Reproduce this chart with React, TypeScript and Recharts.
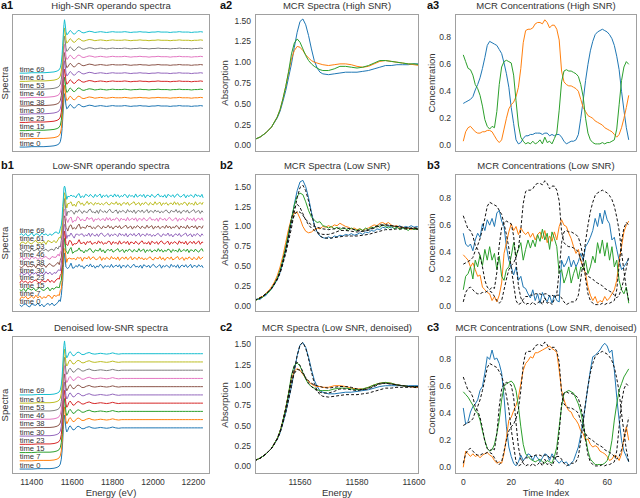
import React from 'react';
import { LineChart, Line, XAxis, YAxis, LabelList } from 'recharts';

const FONT = '"Liberation Sans", Arial, Helvetica, sans-serif';
const INK = '#333333';
const FRAME = '#a0a0a0';
const REF = '#111111';

const TAB10 = ['#1f77b4', '#ff7f0e', '#2ca02c', '#d62728', '#9467bd', '#8c564b', '#e377c2', '#7f7f7f', '#bcbd22', '#17becf'];

// ---- stacked operando spectra (column 1) ----
const stackLabels = ['time 0', 'time 7', 'time 15', 'time 23', 'time 30', 'time 38', 'time 46', 'time 53', 'time 61', 'time 69'];
const stackOffsets = [0, 0.2, 0.4, 0.6, 0.8, 1.0, 1.2, 1.4, 1.6, 1.8];
const edgeEnergy = [
  11340, 11370, 11400, 11430, 11460, 11490, 11510, 11525, 11535, 11541,
  11546, 11550, 11553, 11556, 11559, 11562, 11565, 11569, 11573, 11578,
  11584, 11590, 11597, 11604, 11612, 11620, 11629, 11638, 11648, 11658,
  11670, 11684, 11698, 11712, 11726, 11740, 11755, 11770, 11785, 11800,
  11815, 11830, 11845, 11860, 11875, 11890, 11905, 11920, 11935, 11950,
  11965, 11980, 11995, 12010, 12025, 12040, 12055, 12070, 12085, 12100,
  12115, 12130, 12145, 12160, 12175, 12190, 12205, 12220, 12235, 12247,
];
const highSnrEdge = [
  0.0, 0.0, 0.01, 0.01, 0.01, 0.02, 0.03, 0.05, 0.08, 0.13,
  0.25, 0.45, 0.68, 0.95, 1.18, 1.3, 1.2, 1.02, 0.93, 0.95,
  1.0, 1.04, 1.01, 0.96, 0.95, 0.99, 1.04, 1.03, 0.99, 0.98,
  1.0, 1.02, 1.01, 0.99, 1.0, 1.01, 1.0, 0.99, 1.0, 1.01,
  1.0, 1.0, 1.0, 1.01, 1.0, 0.99, 1.0, 1.0, 1.01, 1.0,
  1.0, 0.99, 1.0, 1.0, 1.01, 1.0, 1.0, 1.0, 0.99, 1.0,
  1.0, 1.01, 1.0, 1.0, 1.0, 0.99, 1.0, 1.0, 1.01, 1.0,
];
const denoisedEdge = [
  0.0, 0.0, 0.0, 0.01, 0.01, 0.01, 0.02, 0.04, 0.07, 0.12,
  0.24, 0.44, 0.68, 0.96, 1.2, 1.31, 1.18, 0.98, 0.9, 0.94,
  1.02, 1.05, 1.0, 0.95, 0.96, 1.01, 1.04, 1.02, 0.98, 0.98,
  1.01, 1.03, 1.0, 0.99, 1.0, 1.01, 1.0, 0.99, 1.0, 1.02,
  1.0, 0.99, 1.0, 1.0, 1.0, 1.0, 1.0, 1.0, 1.0, 1.0,
  1.0, 1.0, 1.0, 1.0, 1.0, 1.0, 1.0, 1.0, 1.0, 1.0,
  1.0, 1.0, 1.0, 1.0, 1.0, 1.0, 1.0, 1.0, 1.0, 1.0,
];
// low-SNR scans are sampled more finely
const noisyEnergy = [
  11340, 11350, 11360, 11370, 11380, 11390, 11400, 11410, 11420, 11430,
  11440, 11450, 11460, 11470, 11480, 11490, 11500, 11510, 11520, 11530,
  11536, 11541, 11546, 11550, 11553, 11556, 11559, 11562, 11565, 11569,
  11573, 11578, 11586, 11594, 11602, 11610, 11618, 11626, 11634, 11642,
  11650, 11658, 11666, 11674, 11682, 11690, 11698, 11706, 11714, 11722,
  11730, 11738, 11746, 11754, 11762, 11770, 11778, 11786, 11794, 11802,
  11810, 11818, 11826, 11834, 11842, 11850, 11858, 11866, 11874, 11882,
  11890, 11898, 11906, 11914, 11922, 11930, 11938, 11946, 11954, 11962,
  11970, 11978, 11986, 11994, 12002, 12010, 12018, 12026, 12034, 12042,
  12050, 12058, 12066, 12074, 12082, 12090, 12098, 12106, 12114, 12122,
  12130, 12138, 12146, 12154, 12162, 12170, 12178, 12186, 12194, 12202,
  12210, 12218, 12226, 12234, 12242, 12248,
];
const noisyEdge = [
  0.0, 0.0, 0.0, 0.0, 0.0, 0.0, 0.01, 0.01, 0.01, 0.01,
  0.01, 0.01, 0.01, 0.01, 0.02, 0.02, 0.02, 0.03, 0.04, 0.06,
  0.09, 0.13, 0.25, 0.45, 0.68, 0.95, 1.18, 1.3, 1.2, 1.02,
  0.93, 0.95, 1.02, 1.03, 0.97, 0.95, 0.98, 1.03, 1.03, 1.0,
  0.98, 0.98, 1.0, 1.01, 1.02, 1.01, 1.0, 0.99, 0.99, 1.0,
  1.0, 1.01, 1.0, 1.0, 0.99, 1.0, 1.0, 1.01, 1.0, 1.0,
  1.0, 1.0, 1.0, 1.0, 1.0, 1.0, 1.0, 1.0, 1.0, 1.0,
  1.0, 1.0, 1.0, 1.0, 1.0, 1.0, 1.0, 1.0, 1.0, 1.0,
  1.0, 1.0, 1.0, 1.0, 1.0, 1.0, 1.0, 1.0, 1.0, 1.0,
  1.0, 1.0, 1.0, 1.0, 1.0, 1.0, 1.0, 1.0, 1.0, 1.0,
  1.0, 1.0, 1.0, 1.0, 1.0, 1.0, 1.0, 1.0, 1.0, 1.0,
  1.0, 1.0, 1.0, 1.0, 1.0, 1.0,
];
const lowSnrNoise = [
  0.01, -0.03, 0.02, 0.04, -0.02, -0.04, 0.03, 0.0, -0.01, 0.05,
  -0.03, 0.02, -0.05, 0.01, 0.03, -0.02, 0.04, -0.04, -0.01, 0.02,
  0.05, -0.03, 0.0, 0.03, -0.05, 0.02, -0.02, 0.04, 0.01, -0.04,
  0.03, -0.01, -0.03, 0.05, -0.02, 0.01, 0.04, -0.05, 0.02, -0.01,
  0.03, -0.04, 0.0, 0.02, -0.03, 0.05, -0.02, 0.03, -0.04, 0.01,
  -0.02, 0.04, 0.02, -0.05, 0.03, -0.01, 0.01, -0.04, 0.05, -0.03,
  0.0, 0.03, -0.02, 0.04, -0.05, 0.02, 0.01, -0.03, 0.04, -0.01,
  -0.04, 0.02, 0.05, -0.02, 0.0, -0.03, 0.03, -0.05, 0.04, 0.01,
  -0.02, 0.03, -0.04, 0.02, 0.05, -0.01, -0.03, 0.01, 0.04, -0.05,
  0.02, -0.02, 0.03, 0.0, -0.04, 0.05, -0.01, 0.02, -0.03, 0.04,
  -0.05, 0.01, 0.03, -0.02, 0.04, -0.03, 0.0, 0.05, -0.04, 0.02,
  0.01, -0.03, 0.04, -0.01, 0.02, -0.04,
];

// ---- MCR component spectra (column 2) ----
const mcrEnergy = [
  11544, 11546, 11548, 11550, 11552, 11553, 11554, 11555, 11556, 11557,
  11558, 11559, 11560, 11561, 11562, 11563, 11564, 11565, 11566, 11567,
  11568, 11570, 11572, 11574, 11576, 11578, 11580, 11582, 11584, 11586,
  11588, 11590, 11592, 11594, 11596, 11598, 11600, 11602,
];
const highBlue = [
  0.07, 0.1, 0.15, 0.22, 0.33, 0.41, 0.53, 0.66, 0.82, 0.98,
  1.18, 1.36, 1.49, 1.52, 1.45, 1.32, 1.16, 1.02, 0.93, 0.88,
  0.86, 0.85, 0.86, 0.87, 0.88, 0.88, 0.88, 0.89, 0.9, 0.92,
  0.94, 0.96, 0.96, 0.97, 0.97, 0.97, 0.98, 0.98,
];
const highOrange = [
  0.07, 0.1, 0.15, 0.22, 0.34, 0.43, 0.56, 0.71, 0.88, 1.04,
  1.14, 1.19, 1.18, 1.14, 1.09, 1.05, 1.02, 1.0, 0.99, 0.98,
  0.97, 0.96, 0.97, 0.98, 0.98, 0.97, 0.95, 0.94, 0.95, 0.98,
  1.01, 1.02, 1.01, 1.0, 0.99, 0.98, 0.97, 0.96,
];
const highGreen = [
  0.07, 0.1, 0.15, 0.22, 0.34, 0.43, 0.56, 0.71, 0.89, 1.1,
  1.23, 1.28, 1.24, 1.16, 1.08, 1.02, 0.98, 0.95, 0.93, 0.91,
  0.9, 0.9, 0.92, 0.95, 0.95, 0.94, 0.93, 0.94, 0.96, 0.99,
  1.02, 1.02, 1.01, 1.0, 0.99, 0.98, 0.98, 0.97,
];
const denoisedBlue = [
  0.07, 0.1, 0.15, 0.22, 0.33, 0.41, 0.53, 0.66, 0.82, 0.98,
  1.17, 1.36, 1.49, 1.52, 1.46, 1.34, 1.19, 1.06, 0.98, 0.93,
  0.91, 0.89, 0.89, 0.9, 0.91, 0.91, 0.92, 0.93, 0.94, 0.96,
  0.98, 0.99, 0.99, 0.99, 0.99, 0.99, 0.99, 0.99,
];
const denoisedOrange = [
  0.07, 0.1, 0.15, 0.22, 0.34, 0.43, 0.56, 0.72, 0.9, 1.07,
  1.17, 1.2, 1.18, 1.13, 1.08, 1.04, 1.01, 0.99, 0.98, 0.98,
  0.97, 0.97, 0.99, 0.99, 0.98, 0.96, 0.95, 0.95, 0.97, 1.0,
  1.02, 1.03, 1.02, 1.0, 0.99, 0.98, 0.97, 0.97,
];
const denoisedGreen = [
  0.07, 0.1, 0.15, 0.22, 0.34, 0.43, 0.56, 0.71, 0.9, 1.12,
  1.24, 1.27, 1.23, 1.15, 1.07, 1.01, 0.98, 0.96, 0.94, 0.93,
  0.93, 0.93, 0.95, 0.96, 0.96, 0.95, 0.94, 0.95, 0.97, 1.0,
  1.02, 1.03, 1.02, 1.0, 0.99, 0.98, 0.98, 0.98,
];
const fineEnergy = [
  11544, 11545, 11546, 11547, 11548, 11549, 11550, 11551, 11552, 11553,
  11554, 11555, 11556, 11557, 11558, 11559, 11560, 11561, 11562, 11563,
  11564, 11565, 11566, 11567, 11568, 11569, 11570, 11571, 11572, 11573,
  11574, 11575, 11576, 11577, 11578, 11579, 11580, 11581, 11582, 11583,
  11584, 11585, 11586, 11587, 11588, 11589, 11590, 11591, 11592, 11593,
  11594, 11595, 11596, 11597, 11598, 11599, 11600, 11601, 11602,
];
const lowBlue = [
  0.07, 0.09, 0.08, 0.12, 0.13, 0.18, 0.21, 0.27, 0.33, 0.42,
  0.55, 0.7, 0.88, 1.06, 1.28, 1.45, 1.56, 1.58, 1.5, 1.36,
  1.18, 1.02, 0.93, 0.88, 0.86, 0.85, 0.87, 0.85, 0.88, 0.87,
  0.89, 0.88, 0.9, 0.89, 0.91, 0.89, 0.9, 0.92, 0.9, 0.93,
  0.92, 0.95, 0.94, 0.97, 0.96, 0.99, 0.98, 1.0, 0.98, 1.0,
  0.99, 1.01, 0.98, 1.0, 0.99, 1.01, 0.99, 1.0, 0.98,
];
const lowOrange = [
  0.07, 0.08, 0.11, 0.12, 0.16, 0.19, 0.24, 0.3, 0.38, 0.49,
  0.63, 0.8, 0.97, 1.1, 1.17, 1.18, 1.1, 1.0, 0.94, 0.92,
  0.93, 0.96, 0.98, 0.97, 1.0, 0.99, 1.01, 0.99, 1.02, 1.01,
  1.04, 1.02, 1.0, 0.99, 0.97, 0.98, 0.96, 0.97, 0.95, 0.97,
  0.98, 1.0, 1.02, 1.01, 1.04, 1.05, 1.03, 1.05, 1.02, 1.0,
  1.01, 0.98, 0.99, 0.97, 0.98, 0.96, 0.98, 0.97, 0.96,
];
const lowGreen = [
  0.06, 0.08, 0.1, 0.11, 0.15, 0.17, 0.22, 0.28, 0.35, 0.45,
  0.58, 0.74, 0.92, 1.1, 1.27, 1.38, 1.42, 1.4, 1.31, 1.2,
  1.12, 1.08, 1.05, 1.06, 1.01, 1.0, 0.98, 1.0, 0.97, 0.99,
  0.96, 0.98, 0.97, 0.95, 0.98, 0.96, 0.95, 0.97, 0.95, 0.98,
  0.96, 0.99, 0.98, 1.01, 0.99, 1.02, 1.0, 0.98, 1.01, 0.97,
  0.99, 0.96, 0.98, 0.97, 0.95, 0.98, 0.96, 0.97, 0.98,
];

// ---- MCR concentrations (column 3) ----
const timeIndex = [
  0, 1, 2, 3, 4, 5, 6, 7, 8, 9, 10, 11, 12, 13, 14, 15, 16, 17, 18, 19,
  20, 21, 22, 23, 24, 25, 26, 27, 28, 29, 30, 31, 32, 33, 34, 35, 36, 37, 38, 39,
  40, 41, 42, 43, 44, 45, 46, 47, 48, 49, 50, 51, 52, 53, 54, 55, 56, 57, 58, 59,
  60, 61, 62, 63, 64, 65, 66, 67, 68, 69,
];
const highConcBlue = [
  0.31, 0.32, 0.33, 0.34, 0.36, 0.41, 0.45, 0.5, 0.57, 0.65,
  0.74, 0.77, 0.76, 0.75, 0.74, 0.71, 0.68, 0.61, 0.53, 0.43,
  0.28, 0.16, 0.04, 0.01, 0.02, 0.05, 0.07, 0.07, 0.08, 0.08,
  0.09, 0.09, 0.09, 0.08, 0.09, 0.09, 0.07, 0.08, 0.07, 0.08,
  0.08, 0.06, 0.03, 0.01, 0.02, 0.03, 0.03, 0.04, 0.08, 0.2,
  0.33, 0.48, 0.6, 0.7, 0.77, 0.82, 0.84, 0.85, 0.86, 0.85,
  0.84, 0.82, 0.79, 0.74, 0.66, 0.56, 0.4, 0.26, 0.13, 0.04,
];
const highConcOrange = [
  0.03, 0.1, 0.13, 0.14, 0.12, 0.1, 0.09, 0.09, 0.1, 0.1,
  0.11, 0.11, 0.1, 0.07, 0.04, 0.02, 0.04, 0.12, 0.2, 0.27,
  0.3, 0.32, 0.36, 0.43, 0.57, 0.76, 0.85, 0.86, 0.86, 0.87,
  0.9, 0.91, 0.91, 0.9, 0.93, 0.91, 0.87, 0.89, 0.89, 0.86,
  0.78, 0.55, 0.47, 0.45, 0.44, 0.44, 0.43, 0.42, 0.4, 0.34,
  0.28, 0.25, 0.22, 0.21, 0.2, 0.18, 0.17, 0.16, 0.15, 0.13,
  0.12, 0.11, 0.1, 0.08, 0.06, 0.08, 0.13, 0.2, 0.28, 0.37,
];
const highConcGreen = [
  0.67, 0.62, 0.57, 0.56, 0.52, 0.45, 0.42, 0.37, 0.29, 0.19,
  0.14, 0.12, 0.14, 0.13, 0.25, 0.45, 0.58, 0.62, 0.63, 0.62,
  0.61, 0.52, 0.33, 0.15, 0.06, 0.03, 0.01, 0.02, 0.01, 0.03,
  0.01, 0.02, 0.04, 0.01, 0.06, 0.02, 0.03, 0.01, 0.05, 0.09,
  0.26, 0.47, 0.55, 0.56, 0.55, 0.55, 0.54, 0.53, 0.51, 0.45,
  0.36, 0.2, 0.09, 0.04, 0.02, 0.01, 0.01, 0.01, 0.02, 0.01,
  0.02, 0.02, 0.03, 0.04, 0.12, 0.3, 0.48, 0.58, 0.62, 0.6,
];
const lowConcBlue = [
  0.54, 0.46, 0.44, 0.46, 0.41, 0.49, 0.54, 0.51, 0.61, 0.56,
  0.64, 0.6, 0.65, 0.59, 0.69, 0.71, 0.63, 0.59, 0.44, 0.34,
  0.29, 0.23, 0.29, 0.19, 0.22, 0.14, 0.13, 0.09, 0.06, 0.12,
  0.04, 0.09, 0.02, 0.1, 0.06, 0.03, 0.08, 0.02, 0.08, 0.04,
  0.03, 0.34, 0.29, 0.32, 0.37, 0.29, 0.34, 0.29, 0.33, 0.39,
  0.34, 0.44, 0.47, 0.51, 0.56, 0.65, 0.59, 0.69, 0.61, 0.71,
  0.64, 0.61, 0.49, 0.51, 0.42, 0.34, 0.27, 0.29, 0.32, 0.35,
];
const lowConcOrange = [
  0.38, 0.36, 0.34, 0.29, 0.32, 0.27, 0.22, 0.23, 0.14, 0.12,
  0.1, 0.09, 0.04, 0.07, 0.03, 0.08, 0.17, 0.39, 0.47, 0.55,
  0.61, 0.56, 0.59, 0.53, 0.58, 0.55, 0.53, 0.55, 0.51, 0.54,
  0.49, 0.53, 0.55, 0.5, 0.56, 0.47, 0.52, 0.48, 0.55, 0.49,
  0.59, 0.64, 0.6, 0.59, 0.54, 0.5, 0.44, 0.39, 0.42, 0.34,
  0.29, 0.24, 0.14, 0.08, 0.04, 0.07, 0.02, 0.04, 0.03, 0.07,
  0.04, 0.06, 0.09, 0.12, 0.19, 0.34, 0.44, 0.55, 0.6, 0.63,
];
const lowConcGreen = [
  0.12, 0.22, 0.24, 0.29, 0.2, 0.34, 0.29, 0.38, 0.3, 0.42,
  0.34, 0.44, 0.34, 0.39, 0.27, 0.37, 0.22, 0.19, 0.27, 0.29,
  0.37, 0.47, 0.37, 0.42, 0.47, 0.34, 0.42, 0.49, 0.43, 0.49,
  0.44, 0.53, 0.48, 0.57, 0.49, 0.54, 0.42, 0.55, 0.5, 0.44,
  0.24, 0.27, 0.17, 0.22, 0.29, 0.17, 0.24, 0.29, 0.2, 0.29,
  0.27, 0.34, 0.24, 0.29, 0.37, 0.32, 0.47, 0.39, 0.49, 0.37,
  0.47, 0.34, 0.44, 0.29, 0.34, 0.19, 0.12, 0.09, 0.14, 0.02,
];
const denoisedConcBlue = [
  0.44, 0.32, 0.34, 0.41, 0.45, 0.47, 0.5, 0.57, 0.6, 0.7,
  0.82, 0.8, 0.87, 0.8, 0.81, 0.77, 0.7, 0.52, 0.3, 0.15,
  0.08, 0.03, 0.01, 0.04, 0.09, 0.05, 0.07, 0.1, 0.09, 0.05,
  0.09, 0.07, 0.04, 0.07, 0.1, 0.09, 0.05, 0.1, 0.07, 0.05,
  0.03, 0.05, 0.03, 0.04, 0.01, 0.03, 0.05, 0.1, 0.15, 0.24,
  0.35, 0.47, 0.6, 0.72, 0.82, 0.83, 0.85, 0.87, 0.9, 0.92,
  0.9, 0.85, 0.87, 0.72, 0.52, 0.35, 0.2, 0.12, 0.08, 0.04,
];
const denoisedConcOrange = [
  0.0, 0.12, 0.1, 0.08, 0.1, 0.08, 0.09, 0.07, 0.09, 0.1,
  0.11, 0.09, 0.08, 0.05, 0.03, 0.04, 0.03, 0.1, 0.22, 0.35,
  0.37, 0.42, 0.46, 0.52, 0.62, 0.72, 0.77, 0.79, 0.82, 0.81,
  0.85, 0.85, 0.86, 0.87, 0.88, 0.89, 0.9, 0.88, 0.87, 0.85,
  0.72, 0.57, 0.5, 0.45, 0.42, 0.41, 0.37, 0.35, 0.32, 0.27,
  0.25, 0.2, 0.21, 0.17, 0.15, 0.16, 0.15, 0.12, 0.11, 0.1,
  0.08, 0.05, 0.06, 0.09, 0.08, 0.05, 0.1, 0.22, 0.3, 0.2,
];
const denoisedConcGreen = [
  0.56, 0.54, 0.52, 0.49, 0.46, 0.42, 0.4, 0.35, 0.27, 0.2,
  0.14, 0.12, 0.13, 0.17, 0.25, 0.35, 0.5, 0.6, 0.62, 0.63,
  0.64, 0.62, 0.57, 0.45, 0.3, 0.17, 0.1, 0.08, 0.06, 0.05,
  0.04, 0.05, 0.06, 0.04, 0.03, 0.05, 0.04, 0.03, 0.08, 0.15,
  0.3, 0.45, 0.55, 0.56, 0.57, 0.56, 0.55, 0.51, 0.47, 0.41,
  0.32, 0.22, 0.12, 0.06, 0.04, 0.02, 0.02, 0.02, 0.02, 0.03,
  0.05, 0.1, 0.2, 0.35, 0.47, 0.57, 0.62, 0.67, 0.7, 0.73,
];

// ---- tables ----
type Row = Record<string, number | undefined>;

// s{i}: plotted trace, p{i}: noise-free baseline used to place the "time" labels
function stackRows(energy: number[], base: number[], noise?: number[]): Row[] {
  return energy.map((e, j) => {
    const row: Row = { energy: e };
    stackOffsets.forEach((off, i) => {
      const n = noise ? noise[(j + 37 * i) % noise.length] : 0;
      row[`s${i}`] = base[j] + off + n;
      row[`p${i}`] = base[j] + off;
    });
    return row;
  });
}
const highStack = stackRows(edgeEnergy, highSnrEdge);
const lowStack = stackRows(noisyEnergy, noisyEdge, lowSnrNoise);
const denoisedStack = stackRows(edgeEnergy, denoisedEdge);

const mcrRows: Row[] = mcrEnergy.map((energy, i) => ({
  energy,
  hb: highBlue[i], ho: highOrange[i], hg: highGreen[i],
  db: denoisedBlue[i], do: denoisedOrange[i], dg: denoisedGreen[i],
}));
const lowMcrRows: Row[] = fineEnergy.map((energy, i) => {
  const k = mcrEnergy.indexOf(energy);
  return {
    energy,
    lb: lowBlue[i], lo: lowOrange[i], lg: lowGreen[i],
    hb: k >= 0 ? highBlue[k] : undefined,
    ho: k >= 0 ? highOrange[k] : undefined,
    hg: k >= 0 ? highGreen[k] : undefined,
  };
});
const concRows: Row[] = timeIndex.map((t, i) => ({
  t,
  hb: highConcBlue[i], ho: highConcOrange[i], hg: highConcGreen[i],
  lb: lowConcBlue[i], lo: lowConcOrange[i], lg: lowConcGreen[i],
  db: denoisedConcBlue[i], do: denoisedConcOrange[i], dg: denoisedConcGreen[i],
}));

// ---- layout ----
const COLS = [
  { left: 12, width: 198 },
  { left: 255, width: 164 },
  { left: 455, width: 182 },
];
const ROW_TOPS = [14, 174, 336];
const PLOT_H = 138;
const YW = 30;
const XH = 16;
const RM = 16; // room for the last x tick label

const tickStyle = { fontSize: 8.5, fill: INK, fontFamily: FONT };

type PanelProps = {
  col: number;
  row: number;
  data: Row[];
  xKey: string;
  xDomain: [number, number];
  yDomain: [number, number];
  xTicks?: number[];
  yTicks?: number[];
  yFormat?: (v: number) => string;
  children: React.ReactNode;
};

function Panel({ col, row, data, xKey, xDomain, yDomain, xTicks, yTicks, yFormat, children }: PanelProps) {
  const { left, width } = COLS[col];
  const top = ROW_TOPS[row];
  const w = width + YW + RM;
  return (
    <div style={{ position: 'absolute', left: left - YW, top, width: w, height: PLOT_H + XH }}>
      <LineChart width={w} height={PLOT_H + XH} data={data} margin={{ top: 0, right: RM, bottom: 0, left: 0 }}>
        <XAxis
          dataKey={xKey}
          type="number"
          domain={xDomain}
          allowDataOverflow
          ticks={xTicks ?? []}
          interval={0}
          tick={xTicks ? tickStyle : false}
          axisLine={false}
          tickLine={false}
          tickSize={4}
          tickMargin={1}
          height={XH}
        />
        <YAxis
          type="number"
          domain={yDomain}
          allowDataOverflow
          ticks={yTicks ?? []}
          interval={0}
          tick={yTicks ? tickStyle : false}
          tickFormatter={yFormat}
          axisLine={false}
          tickLine={false}
          tickSize={3}
          tickMargin={1}
          width={YW}
        />
        {children}
      </LineChart>
      <div
        style={{
          position: 'absolute', left: YW, top: 0, width, height: PLOT_H,
          border: `1px solid ${FRAME}`, boxSizing: 'border-box', pointerEvents: 'none',
        }}
      />
    </div>
  );
}

type TxtProps = { x: number; y: number; size: number; bold?: boolean; rotate?: boolean; anchor?: 'start' | 'middle'; children: React.ReactNode };

function Txt({ x, y, size, bold, rotate, anchor = 'middle', children }: TxtProps) {
  const shift = anchor === 'middle' ? 'translate(-50%, -50%)' : 'translate(0, -50%)';
  return (
    <div
      style={{
        position: 'absolute', left: x, top: y, transform: shift + (rotate ? ' rotate(-90deg)' : ''),
        fontSize: size, fontWeight: bold ? 700 : 400, fontFamily: FONT, color: bold ? '#111' : INK,
        whiteSpace: 'nowrap', lineHeight: 1,
      }}
    >
      {children}
    </div>
  );
}

function stackLines() {
  const labels = stackOffsets.map((_, i) => (
    <Line key={`lbl${i}`} dataKey={`p${i}`} stroke="none" dot={false} activeDot={false} isAnimationActive={false}>
      <LabelList
        dataKey={`p${i}`}
        content={(p: any) =>
          p.index === 0 ? (
            <text x={p.x} y={p.y - 1.5} fontSize={7.6} fill={INK} fontFamily={FONT}>
              {stackLabels[i]}
            </text>
          ) : null
        }
      />
    </Line>
  ));
  const traces = stackOffsets.map((_, i) => (
    <Line key={`s${i}`} dataKey={`s${i}`} stroke={TAB10[i]} strokeWidth={1} dot={false} isAnimationActive={false} />
  ));
  return [...labels, ...traces];
}

function solid(key: string, color: string) {
  return <Line key={key} dataKey={key} stroke={color} strokeWidth={1} dot={false} isAnimationActive={false} />;
}
function dashed(key: string) {
  return (
    <Line key={`ref-${key}`} dataKey={key} stroke={REF} strokeWidth={1} strokeDasharray="3 2" dot={false} connectNulls isAnimationActive={false} />
  );
}

const spectraX: [number, number] = [11302, 12282];
const spectraTicks = [11400, 11600, 11800, 12000, 12200];
const mcrX: [number, number] = [11544.2, 11601.75];
const mcrTicks = [11560, 11580, 11600];
const absTicks = [0, 0.25, 0.5, 0.75, 1.0, 1.25, 1.5];
const concX: [number, number] = [-3.45, 72.45];
const concXTicks = [0, 20, 40, 60];
const concTicks = [0, 0.2, 0.4, 0.6, 0.8];
const f2 = (v: number) => v.toFixed(2);
const f1 = (v: number) => v.toFixed(1);

const titles = [
  ['High-SNR operando spectra', 'MCR Spectra (High SNR)', 'MCR Concentrations (High SNR)'],
  ['Low-SNR operando spectra', 'MCR Spectra (Low SNR)', 'MCR Concentrations (Low SNR)'],
  ['Denoised low-SNR spectra', 'MCR Spectra (Low SNR, denoised)', 'MCR Concentrations (Low SNR, denoised)'],
];
const panelTags = [
  ['a1', 'a2', 'a3'],
  ['b1', 'b2', 'b3'],
  ['c1', 'c2', 'c3'],
];
const tagX = [1, 220, 427];
const yLabelX = [5, 225, 432];
const yLabels = ['Spectra', 'Absorption', 'Concentration'];

export default function App() {
  return (
    <div style={{ position: 'absolute', left: 0, top: 0, width: 640, height: 498, background: '#fff', overflow: 'hidden' }}>
      {/* column 1: stacked spectra */}
      <Panel col={0} row={0} data={highStack} xKey="energy" xDomain={spectraX} yDomain={[-0.12, 3.24]}>
        {stackLines()}
      </Panel>
      <Panel col={0} row={1} data={lowStack} xKey="energy" xDomain={spectraX} yDomain={[-0.17, 3.36]}>
        {stackLines()}
      </Panel>
      <Panel col={0} row={2} data={denoisedStack} xKey="energy" xDomain={spectraX} yDomain={[-0.12, 3.23]} xTicks={spectraTicks}>
        {stackLines()}
      </Panel>

      {/* column 2: MCR spectra */}
      <Panel col={1} row={0} data={mcrRows} xKey="energy" xDomain={mcrX} yDomain={[-0.08, 1.58]} yTicks={absTicks} yFormat={f2}>
        {solid('hb', TAB10[0])}
        {solid('ho', TAB10[1])}
        {solid('hg', TAB10[2])}
      </Panel>
      <Panel col={1} row={1} data={lowMcrRows} xKey="energy" xDomain={mcrX} yDomain={[-0.076, 1.66]} yTicks={absTicks} yFormat={f2}>
        {solid('lb', TAB10[0])}
        {solid('lo', TAB10[1])}
        {solid('lg', TAB10[2])}
        {dashed('hb')}
        {dashed('ho')}
        {dashed('hg')}
      </Panel>
      <Panel col={1} row={2} data={mcrRows} xKey="energy" xDomain={mcrX} yDomain={[-0.094, 1.6]} yTicks={absTicks} yFormat={f2} xTicks={mcrTicks}>
        {solid('db', TAB10[0])}
        {solid('do', TAB10[1])}
        {solid('dg', TAB10[2])}
        {dashed('hb')}
        {dashed('ho')}
        {dashed('hg')}
      </Panel>

      {/* column 3: MCR concentrations */}
      <Panel col={2} row={0} data={concRows} xKey="t" xDomain={concX} yDomain={[-0.05, 0.973]} yTicks={concTicks} yFormat={f1}>
        {solid('hb', TAB10[0])}
        {solid('ho', TAB10[1])}
        {solid('hg', TAB10[2])}
      </Panel>
      <Panel col={2} row={1} data={concRows} xKey="t" xDomain={concX} yDomain={[-0.045, 0.98]} yTicks={concTicks} yFormat={f1}>
        {solid('lb', TAB10[0])}
        {solid('lo', TAB10[1])}
        {solid('lg', TAB10[2])}
        {dashed('hb')}
        {dashed('ho')}
        {dashed('hg')}
      </Panel>
      <Panel col={2} row={2} data={concRows} xKey="t" xDomain={concX} yDomain={[-0.05, 0.974]} yTicks={concTicks} yFormat={f1} xTicks={concXTicks}>
        {solid('db', TAB10[0])}
        {solid('do', TAB10[1])}
        {solid('dg', TAB10[2])}
        {dashed('hb')}
        {dashed('ho')}
        {dashed('hg')}
      </Panel>

      {/* titles, tags and axis labels */}
      {ROW_TOPS.map((top, r) =>
        COLS.map((c, ci) => (
          <React.Fragment key={`${r}-${ci}`}>
            <Txt x={c.left + c.width / 2} y={top - 8} size={9.5}>{titles[r][ci]}</Txt>
            <Txt x={tagX[ci]} y={top - 9} size={11} bold anchor="start">{panelTags[r][ci]}</Txt>
            <Txt x={yLabelX[ci]} y={top + PLOT_H / 2} size={9.5} rotate>{yLabels[ci]}</Txt>
          </React.Fragment>
        )),
      )}
      <Txt x={111} y={493} size={9.5}>Energy (eV)</Txt>
      <Txt x={337} y={493} size={9.5}>Energy</Txt>
      <Txt x={546} y={493} size={9.5}>Time Index</Txt>
    </div>
  );
}
